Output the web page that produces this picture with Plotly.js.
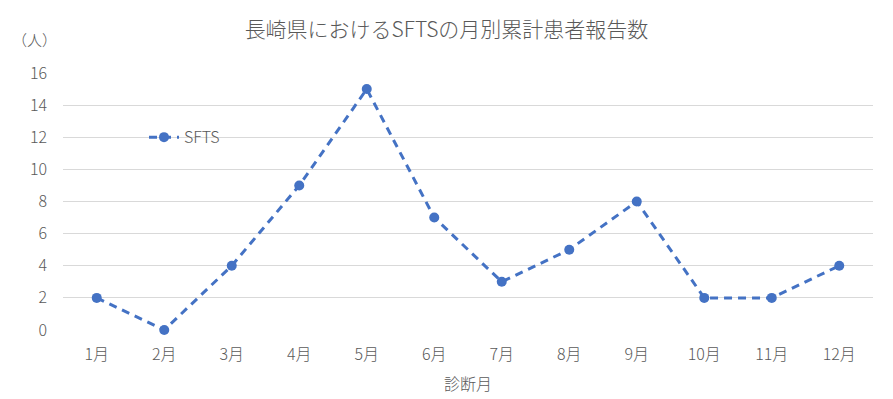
<!DOCTYPE html>
<html>
<head>
<meta charset="utf-8">
<script src="https://cdn.plot.ly/plotly-3.0.1.min.js"></script>
<style>html,body{margin:0;padding:0;background:#fff;}#chart{width:893px;height:399px;}</style>
</head>
<body>
<div id="chart"></div>
<script>
const months = ["1月","2月","3月","4月","5月","6月","7月","8月","9月","10月","11月","12月"];
const cases = [2,0,4,9,15,7,3,5,8,2,2,4];
const yTicks = [0,2,4,6,8,10,12,14,16];
const seriesName = "SFTS";
const chartTitle = "長崎県におけるSFTSの月別累計患者報告数";
const xTitle = "診断月";
const yUnit = "（人）";

const font = "'Noto Sans CJK JP', 'Noto Sans', sans-serif";
const gray = "#595959";
const w = 300;

const trace = {
  x: months, y: cases, name: seriesName, type: "scatter", mode: "lines+markers",
  line: {color: "#4472C4", width: 3, dash: "8px,6px"},
  marker: {color: "#4472C4", size: 10},
  cliponaxis: false
};

const layout = {
  width: 893, height: 399,
  margin: {l: 63, r: 20, t: 73, b: 69},
  paper_bgcolor: "#fff", plot_bgcolor: "#fff",
  font: {family: font, color: gray, size: 16, weight: w},
  title: {text: chartTitle, font: {family: font, size: 21, color: gray, weight: w}, x: 0.5, xanchor: "center", y: 0.925, yanchor: "middle"},
  xaxis: {
    type: "category", range: [-0.5, 11.5], showgrid: false, zeroline: false,
    showline: false, ticks: "", tickfont: {size: 16, color: gray, weight: w},
    ticklabelstandoff: 13,
    title: {text: xTitle, font: {size: 16, color: gray, weight: w}, standoff: 14}
  },
  yaxis: {
    range: [0, 16], tickvals: yTicks, showgrid: true, gridcolor: "#d9d9d9", gridwidth: 1,
    zeroline: false, showline: false, ticks: "", tickfont: {size: 16, color: gray, weight: w},
    ticklabelstandoff: 15
  },
  showlegend: true,
  legend: {x: 0.1, y: 0.75, xanchor: "left", yanchor: "middle", bgcolor: "rgba(0,0,0,0)", font: {size: 16, color: gray, weight: w}},
  annotations: [{
    text: yUnit, xref: "paper", yref: "paper", x: -0.005, y: 1.13, xanchor: "right", yanchor: "middle",
    showarrow: false, font: {size: 15, color: gray, weight: w}
  }]
};

Plotly.newPlot("chart", [trace], layout, {displayModeBar: false, staticPlot: true});
</script>
</body>
</html>
